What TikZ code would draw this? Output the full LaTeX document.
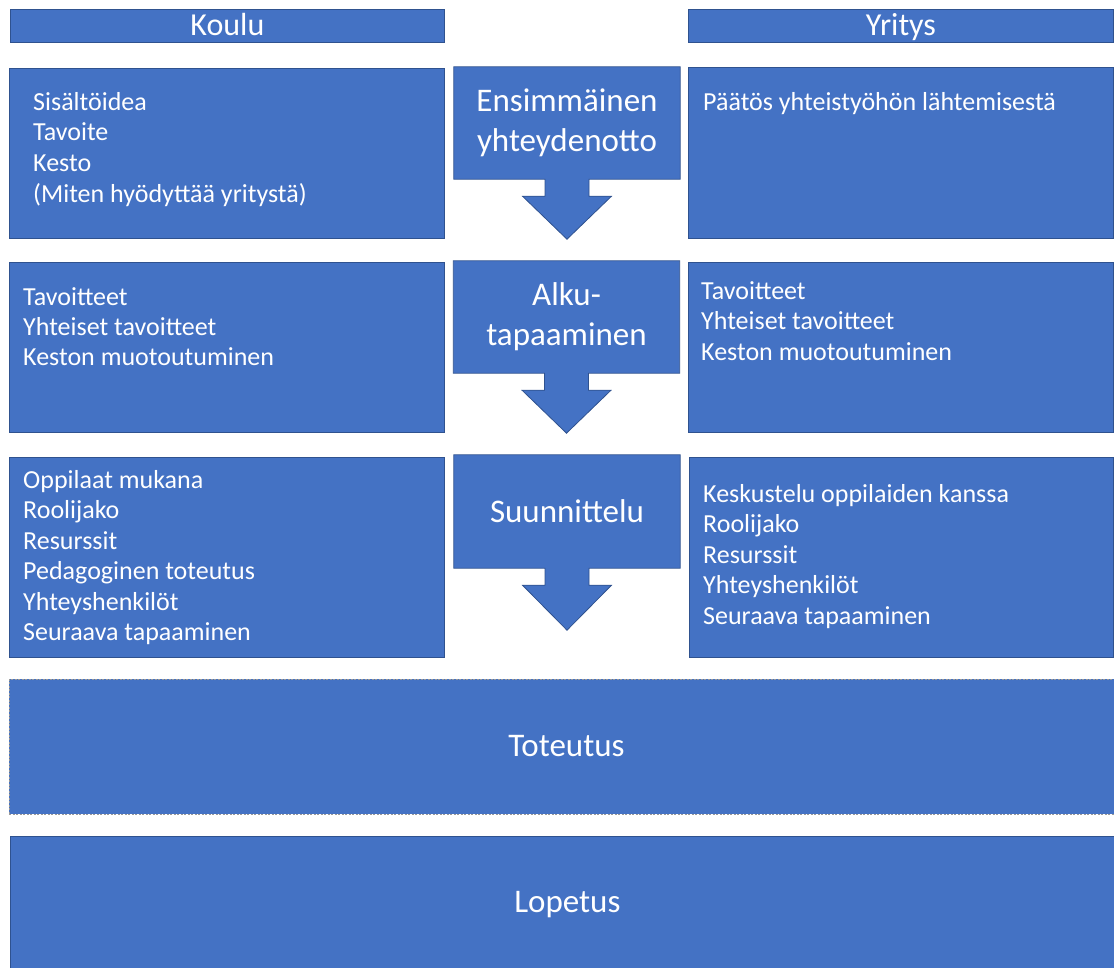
\documentclass[tikz,border=0pt]{standalone}
\usepackage{fontspec}
\setmainfont{Carlito}
\usetikzlibrary{positioning, calc, backgrounds}
\definecolor{boxblue}{HTML}{4472C4}
\definecolor{edgeblue}{HTML}{2F528F}

\begin{document}
\begin{tikzpicture}[x=1pt, y=-1pt,
  bluefill/.style={fill=boxblue, draw=edgeblue, line width=0.8pt},
  box/.style={bluefill, rectangle, inner sep=0pt, anchor=north west},
  header/.style={box, text=white, font=\fontsize{32}{38}\selectfont,
    text height=20pt, text depth=0pt},
  stage/.style={rectangle, inner sep=0pt, text=white, align=center,
    font=\fontsize{33}{40}\selectfont, minimum width=226, minimum height=112},
  item/.style={anchor=base west, inner sep=0pt, text=white,
    font=\fontsize{26}{30}\selectfont},
  phase/.style={box, text=white, font=\fontsize{33}{40}\selectfont,
    text height=20pt, text depth=0pt}
]
\useasboundingbox (0,0) rectangle (1114,967);

% -- Headers ------------------------------------------------------------------
\node[header, minimum width=434, minimum height=33] (koulu) at (10,9) {Koulu};
\node[header, minimum width=425, minimum height=33] (yritys) at (688,9) {Yritys};

% -- Side boxes ---------------------------------------------------------------
\node[box, minimum width=435, minimum height=170] (k1) at (9,68) {};
\node[box, minimum width=425, minimum height=171] (y1) at (688,67) {};
\node[box, minimum width=435, minimum height=170] (k2) at (9,262) {};
\node[box, minimum width=425, minimum height=170] (y2) at (688,262) {};
\node[box, minimum width=435, minimum height=200] (k3) at (9,457) {};
\node[box, minimum width=424, minimum height=200] (y3) at (689,457) {};

% -- Stages (down arrow callouts) ---------------------------------------------
\node[stage] (ens) at (567,123) {Ensimmäinen\\yhteydenotto};
\node[stage] (alku) at (566.5,317) {Alku-\\tapaaminen};
\node[stage, minimum height=113] (suun) at (567,511.5) {Suunnittelu};

\begin{scope}[on background layer]
  \foreach \s/\tip in {ens/60, alku/60, suun/62}
    \draw[bluefill] (\s.north west) -- (\s.north east) -- (\s.south east)
      -- ($(\s.south)+(22,0)$) -- ($(\s.south)+(22,17)$) -- ($(\s.south)+(44.5,17)$)
      -- ($(\s.south)+(0,\tip)$)
      -- ($(\s.south)+(-44.5,17)$) -- ($(\s.south)+(-22,17)$) -- ($(\s.south)+(-22,0)$)
      -- (\s.south west) -- cycle;
\end{scope}

% -- Koulu items --------------------------------------------------------------
\foreach \t [count=\i] in {Sisältöidea, Tavoite, Kesto, {(Miten hyödyttää yritystä)}}
  \node[item] (k1-\i) at (33, {110+30.9*(\i-1)}) {\t};
\foreach \t [count=\i] in {Tavoitteet, Yhteiset tavoitteet, Keston muotoutuminen}
  \node[item] (k2-\i) at (23, {305+30*(\i-1)}) {\t};
\foreach \t [count=\i] in {Oppilaat mukana, Roolijako, Resurssit, Pedagoginen toteutus,
    Yhteyshenkilöt, Seuraava tapaaminen}
  \node[item] (k3-\i) at (23, {488+30.5*(\i-1)}) {\t};

% -- Yritys items -------------------------------------------------------------
\node[item] (y1-1) at (703,110) {Päätös yhteistyöhön lähtemisestä};
\foreach \t [count=\i] in {Tavoitteet, Yhteiset tavoitteet, Keston muotoutuminen}
  \node[item] (y2-\i) at (701, {299+30.5*(\i-1)}) {\t};
\foreach \t [count=\i] in {Keskustelu oppilaiden kanssa, Roolijako, Resurssit,
    Yhteyshenkilöt, Seuraava tapaaminen}
  \node[item] (y3-\i) at (703, {502+30.6*(\i-1)}) {\t};

% -- Toteutus and Lopetus -----------------------------------------------------
\node[phase, draw=gray!80, dash pattern=on 2pt off 1.5pt,
  minimum width=1114, minimum height=135] (tot) at (9,679) {Toteutus};
\node[phase, minimum width=1114, minimum height=132] (lop) at (10,836) {Lopetus};

\end{tikzpicture}
\end{document}
